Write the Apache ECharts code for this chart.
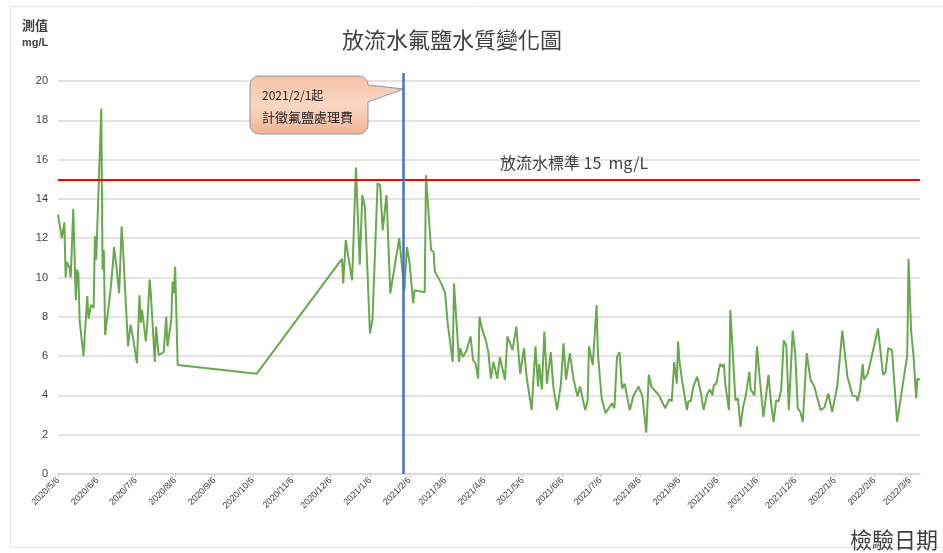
<!DOCTYPE html>
<html>
<head>
<meta charset="utf-8">
<script src="https://cdn.jsdelivr.net/npm/echarts@6/dist/echarts.min.js"></script>
<style>
  html, body { margin: 0; padding: 0; background: #fff; }
  #chart { width: 943px; height: 553px; }
</style>
</head>
<body>
<div id="chart"></div>
<script>
// Sampling dates of the effluent fluoride measurements
const sampleDates = [
  '2020-05-06','2020-05-09','2020-05-11','2020-05-12','2020-05-13','2020-05-15','2020-05-16','2020-05-18','2020-05-20','2020-05-21',
  '2020-05-22','2020-05-23','2020-05-26','2020-05-29','2020-05-30','2020-06-01','2020-06-03','2020-06-04','2020-06-05','2020-06-09',
  '2020-06-10','2020-06-11','2020-06-12','2020-06-16','2020-06-18','2020-06-19','2020-06-21','2020-06-23','2020-06-25','2020-06-26',
  '2020-06-30','2020-07-02','2020-07-04','2020-07-07','2020-07-09','2020-07-10','2020-07-11','2020-07-14','2020-07-15','2020-07-17',
  '2020-07-18','2020-07-21','2020-07-22','2020-07-24','2020-07-28','2020-07-30','2020-07-31','2020-08-03','2020-08-04','2020-08-05',
  '2020-08-06','2020-08-08','2020-10-09','2020-12-15',
  '2020-12-16','2020-12-18','2020-12-23','2020-12-24','2020-12-26','2020-12-29','2020-12-31','2021-01-02','2021-01-06','2021-01-08',
  '2021-01-12','2021-01-14','2021-01-16','2021-01-19','2021-01-22','2021-01-29','2021-02-02','2021-02-04','2021-02-06','2021-02-09',
  '2021-02-10','2021-02-18','2021-02-19','2021-02-23','2021-02-25','2021-02-26','2021-03-03','2021-03-06','2021-03-08','2021-03-12',
  '2021-03-13','2021-03-14','2021-03-17','2021-03-18','2021-03-20','2021-03-23','2021-03-26','2021-03-28','2021-03-30','2021-04-01',
  '2021-04-02','2021-04-04','2021-04-07','2021-04-09','2021-04-11','2021-04-13','2021-04-16','2021-04-18','2021-04-21','2021-04-22',
  '2021-04-24','2021-04-28','2021-05-01','2021-05-04','2021-05-07','2021-05-09','2021-05-13','2021-05-16','2021-05-18','2021-05-19',
  '2021-05-21','2021-05-23','2021-05-25','2021-05-28','2021-05-30','2021-06-02','2021-06-05','2021-06-07','2021-06-09','2021-06-12',
  '2021-06-15','2021-06-18','2021-06-20','2021-06-24','2021-06-26','2021-06-27','2021-06-30','2021-07-03','2021-07-04','2021-07-07',
  '2021-07-10','2021-07-13','2021-07-15','2021-07-17','2021-07-19','2021-07-21','2021-07-23','2021-07-25','2021-07-29','2021-08-01',
  '2021-08-05','2021-08-08','2021-08-11','2021-08-13','2021-08-15','2021-08-17','2021-08-21','2021-08-24','2021-08-26','2021-08-29',
  '2021-08-31','2021-09-02','2021-09-04','2021-09-05','2021-09-06','2021-09-08','2021-09-12','2021-09-13','2021-09-15','2021-09-17',
  '2021-09-20','2021-09-23','2021-09-25','2021-09-28','2021-09-30','2021-10-02','2021-10-03','2021-10-05','2021-10-08','2021-10-10',
  '2021-10-11','2021-10-12','2021-10-15','2021-10-16','2021-10-18','2021-10-20','2021-10-22','2021-10-24','2021-10-26','2021-10-28',
  '2021-10-31','2021-11-01','2021-11-04','2021-11-06','2021-11-07','2021-11-08','2021-11-11','2021-11-13','2021-11-15','2021-11-17',
  '2021-11-19','2021-11-21','2021-11-23','2021-11-25','2021-11-27','2021-11-29','2021-12-01','2021-12-04','2021-12-06','2021-12-08',
  '2021-12-10','2021-12-12','2021-12-15','2021-12-18','2021-12-21','2021-12-23','2021-12-26','2021-12-29','2022-01-01','2022-01-04',
  '2022-01-08','2022-01-12','2022-01-16','2022-01-20','2022-01-23','2022-01-24','2022-01-26','2022-01-28','2022-01-29','2022-02-01',
  '2022-02-09','2022-02-10','2022-02-13','2022-02-15','2022-02-17','2022-02-20','2022-02-24','2022-03-04','2022-03-05','2022-03-07',
  '2022-03-09','2022-03-11','2022-03-12','2022-03-14'
];

// Measured fluoride concentration (mg/L) for each sampling date
const fluorideValues = [
  13.2, 12.0, 12.8, 10.0, 10.8, 10.5, 10.0, 13.5, 8.85, 10.4,
  10.2, 7.8, 6.0, 9.05, 7.9, 8.6, 8.45, 12.1, 10.9, 18.6,
  10.4, 11.4, 7.07, 9.2, 10.6, 11.55, 10.5, 9.2, 12.6, 11.55,
  6.5, 7.6, 6.9, 5.65, 9.1, 7.7, 8.35, 6.75, 7.5, 9.9,
  9.1, 5.7, 7.5, 6.05, 6.2, 8.0, 6.5, 7.85, 9.8, 9.2,
  10.55, 5.55, 5.1, 10.95,
  9.7, 11.9, 9.85, 9.8, 15.6, 10.65, 14.2, 13.6, 7.15, 7.85,
  14.8, 14.7, 12.4, 14.2, 9.2, 12.0, 9.3, 11.55, 10.8, 8.7,
  9.35, 9.25, 15.2, 11.4, 11.3, 10.3, 9.7, 9.2, 7.7, 5.7,
  9.7, 9.7, 5.7, 6.4, 5.95, 6.3, 7.0, 5.8, 5.6, 4.85,
  8.0, 7.4, 6.8, 6.2, 4.85, 5.7, 4.85, 5.95, 5.1, 4.8,
  7.0, 6.3, 7.5, 5.1, 6.4, 4.95, 3.25, 6.5, 4.45, 5.6,
  4.3, 7.25, 4.6, 6.2, 4.45, 3.25, 4.6, 6.65, 4.8, 6.15,
  4.8, 3.95, 4.45, 3.25, 3.75, 6.5, 5.55, 8.6, 6.15, 3.85,
  3.1, 3.4, 3.6, 3.35, 5.95, 6.2, 4.35, 4.6, 3.25, 4.0,
  4.45, 3.95, 2.1, 5.05, 4.45, 4.3, 4.0, 3.6, 3.35, 3.8,
  3.7, 5.7, 4.6, 6.75, 5.8, 4.8, 3.25, 3.7, 3.7, 4.45,
  4.95, 4.1, 3.25, 4.1, 4.3, 4.0, 4.5, 4.6, 5.6, 5.45,
  5.6, 4.6, 3.25, 8.35, 6.15, 3.75, 3.85, 2.4, 3.4, 3.95,
  5.2, 4.3, 4.0, 6.5, 6.5, 4.95, 2.9, 3.95, 5.05, 3.6,
  2.65, 3.75, 3.7, 4.3, 6.8, 6.55, 3.25, 7.3, 6.15, 3.35,
  3.15, 2.65, 6.15, 4.8, 4.45, 3.95, 3.25, 3.4, 4.1, 3.15,
  4.45, 7.3, 4.95, 4.0, 3.95, 3.7, 4.3, 5.6, 4.8, 5.1,
  7.4, 7.4, 5.05, 5.2, 6.4, 6.3, 2.65, 6.05, 10.95, 7.3,
  5.95, 3.85, 4.85, 4.8
];

// Monthly date-axis labels
const monthTicks = [
  '2020-05-06','2020-06-06','2020-07-06','2020-08-06','2020-09-06','2020-10-06','2020-11-06','2020-12-06',
  '2021-01-06','2021-02-06','2021-03-06','2021-04-06','2021-05-06','2021-06-06','2021-07-06','2021-08-06',
  '2021-09-06','2021-10-06','2021-11-06','2021-12-06','2022-01-06','2022-02-06','2022-03-06'
];

const axisStart = '2020-05-06';
const axisEnd = '2022-03-14';
const dischargeLimit = 15;          // effluent standard, mg/L
const feeStartDate = '2021-02-01';  // fluoride treatment fee charged from this date

const CJK = '"Noto Sans CJK TC", "Noto Sans CJK SC", sans-serif';
const LATIN = '"Liberation Sans", Arial, sans-serif';

function toTime(s) {
  const [y, m, d] = s.split('-').map(Number);
  return new Date(y, m - 1, d).getTime();
}
function fmtDate(v) {
  const d = new Date(v);
  return d.getFullYear() + '/' + (d.getMonth() + 1) + '/' + d.getDate();
}

const tickTimes = monthTicks.map(toTime);
const seriesData = sampleDates.map((d, i) => [toTime(d), fluorideValues[i]]);

const chart = echarts.init(document.getElementById('chart'), null, { renderer: 'canvas' });

chart.setOption({
  animation: false,
  backgroundColor: '#ffffff',
  grid: { left: 58, right: 23, top: 81, bottom: 79 },
  xAxis: {
    // date values (ms) on a linear scale, labelled on the 6th of each month
    type: 'value',
    min: toTime(axisStart),
    max: toTime(axisEnd),
    axisLine: { show: true, lineStyle: { color: '#d9d9d9', width: 1.5 } },
    axisTick: { show: true, customValues: tickTimes, length: 3, lineStyle: { color: '#c8c8c8' } },
    axisLabel: {
      customValues: tickTimes,
      formatter: fmtDate,
      rotate: 45,
      fontSize: 9,
      fontFamily: LATIN,
      color: '#404040',
      margin: 5
    },
    splitLine: { show: false }
  },
  yAxis: {
    type: 'value',
    min: 0,
    max: 20,
    interval: 2,
    axisLine: { show: false },
    axisTick: { show: false },
    axisLabel: { fontSize: 11, fontFamily: LATIN, color: '#404040', margin: 10 },
    splitLine: { lineStyle: { color: '#dadada', width: 1.5 } }
  },
  series: [{
    type: 'line',
    data: seriesData,
    symbol: 'none',
    lineStyle: { color: '#6aa84f', width: 2 },
    z: 3,
    markLine: {
      silent: true,
      symbol: 'none',
      label: { show: false },
      lineStyle: { color: '#ff0000', width: 2, type: 'solid' },
      data: [{ yAxis: dischargeLimit }]
    }
  }]
});

// Fee start marker and callout, positioned through the axis scales
const lineX = Math.round(chart.convertToPixel({ xAxisIndex: 0 }, toTime(feeStartDate))) + 0.5;
const zeroY = chart.convertToPixel({ yAxisIndex: 0 }, 0);
const topY = chart.convertToPixel({ yAxisIndex: 0 }, 20);

function calloutPoints(x0, y0, x1, y1, r, tipX, tipY, b0, b1) {
  const pts = [];
  const arc = (cx, cy, a0, a1) => {
    for (let k = 0; k <= 6; k++) {
      const a = (a0 + (a1 - a0) * k / 6) * Math.PI / 180;
      pts.push([cx + r * Math.cos(a), cy + r * Math.sin(a)]);
    }
  };
  arc(x1 - r, y0 + r, -90, 0);
  pts.push([x1, b0], [tipX, tipY], [x1, b1]);
  arc(x1 - r, y1 - r, 0, 90);
  arc(x0 + r, y1 - r, 90, 180);
  arc(x0 + r, y0 + r, 180, 270);
  return pts;
}

chart.setOption({
  graphic: [
    {
      type: 'rect', silent: true, z: -10,
      shape: { x: 10.5, y: 6.5, width: 940, height: 541 },
      style: { fill: null, stroke: '#e3e3e3', lineWidth: 1 }
    },
    {
      type: 'text', x: 342, y: 40, silent: true,
      style: { text: '放流水氟鹽水質變化圖', fontSize: 22, fontFamily: CJK, fill: '#404040',
               textVerticalAlign: 'middle', verticalAlign: 'middle' }
    },
    {
      type: 'text', x: 22, y: 25, silent: true,
      style: { text: '測值', fontSize: 13, fontWeight: 'bold', fontFamily: CJK, fill: '#404040',
               textVerticalAlign: 'middle', verticalAlign: 'middle' }
    },
    {
      type: 'text', x: 22, y: 43, silent: true,
      style: { text: 'mg/L', fontSize: 11, fontWeight: 'bold', fontFamily: LATIN, fill: '#404040',
               textVerticalAlign: 'middle', verticalAlign: 'middle' }
    },
    {
      type: 'text', x: 500, y: 163, silent: true,
      style: { text: '放流水標準 15  mg/L', fontSize: 16, fontFamily: CJK, fill: '#404040',
               textVerticalAlign: 'middle', verticalAlign: 'middle' }
    },
    {
      type: 'text', x: 850, y: 540, silent: true,
      style: { text: '檢驗日期', fontSize: 22, fontFamily: CJK, fill: '#404040',
               textVerticalAlign: 'middle', verticalAlign: 'middle' }
    },
    {
      type: 'polygon', silent: true, z: 10,
      shape: { points: calloutPoints(250, 76, 368, 134, 9, lineX, 89, 85, 102) },
      style: {
        fill: new echarts.graphic.LinearGradient(0, 0, 0, 1, [
          { offset: 0, color: '#f6c1a5' },
          { offset: 0.5, color: '#fbd7c4' },
          { offset: 1, color: '#f2b292' }
        ]),
        stroke: '#8c96a8',
        lineWidth: 1
      }
    },
    {
      type: 'text', x: 262, y: 95, silent: true, z: 11,
      style: { text: '2021/2/1起', fontSize: 12, fontFamily: CJK, fill: '#262626',
               textVerticalAlign: 'middle', verticalAlign: 'middle' }
    },
    {
      type: 'text', x: 262, y: 117, silent: true, z: 11,
      style: { text: '計徵氟鹽處理費', fontSize: 13, fontFamily: CJK, fill: '#262626',
               textVerticalAlign: 'middle', verticalAlign: 'middle' }
    },
    {
      type: 'line', silent: true, z: 12,
      shape: { x1: lineX, y1: topY - 8, x2: lineX, y2: zeroY },
      style: { stroke: '#4472c4', lineWidth: 2.5 }
    }
  ]
});
</script>
</body>
</html>
